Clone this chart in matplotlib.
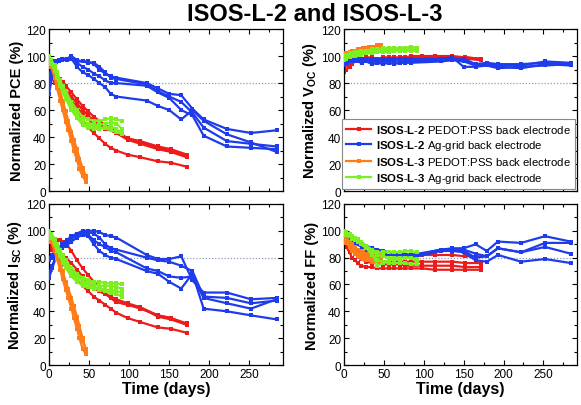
import numpy as np
import matplotlib as mpl
mpl.use('Agg')
from matplotlib import pyplot as plt
from matplotlib.ticker import MultipleLocator

plt.rcParams['font.family'] = ['Liberation Sans', 'DejaVu Sans']
plt.rcParams['mathtext.fontset'] = 'custom'
plt.rcParams['mathtext.rm'] = 'Liberation Sans'
plt.rcParams['mathtext.bf'] = 'Liberation Sans:bold'
plt.rcParams['mathtext.it'] = 'Liberation Sans:italic'

# measurement times (days) -----------------------------------------------------
t_red = [0, 3, 7, 10, 14, 17, 21, 28, 35, 42, 49, 56, 63, 70, 77, 84, 98, 114, 136, 152, 172]
t_blue = [0, 4, 8, 12, 16, 22, 28, 35, 42, 49, 56, 63, 70, 77, 84, 122, 136, 150, 165, 179, 193, 222, 252, 284]
t_orange = [0, 3, 7, 10, 14, 17, 21, 24, 28, 31, 35, 38, 42, 46]
t_green = [0, 3, 7, 10, 14, 17, 21, 28, 35, 42, 49, 56, 63, 70, 77, 84, 91]

# PCE ------------------------------------------------------------------------
pce_red = [[92, 90, 88, 86, 83, 81, 78, 73, 68, 63, 59, 55, 52, 49, 47, 45, 39, 37, 33, 31, 27],
           [90, 88, 86, 84, 81, 78, 75, 70, 65, 60, 56, 52, 49, 47, 45, 43, 38, 35, 31, 29, 25],
           [88, 85, 80, 78, 77, 75, 72, 67, 62, 57, 53, 50, 48, 46, 45, 43, 39, 36, 32, 30, 26],
           [90, 86, 82, 79, 76, 73, 70, 64, 58, 52, 47, 43, 39, 35, 32, 30, 27, 25, 22, 21, 18]]
pce_blue = [[78, 88, 95, 97, 98, 98, 100, 97, 96, 96, 94, 90, 87, 85, 84, 80, 76, 72, 71, 61, 53, 46, 43, 45],
            [72, 85, 93, 97, 98, 98, 99, 96, 96, 95, 95, 92, 88, 84, 83, 79, 74, 70, 66, 58, 47, 37, 35, 33],
            [85, 92, 96, 97, 97, 98, 98, 95, 92, 90, 87, 85, 82, 80, 80, 78, 73, 69, 60, 56, 41, 33, 32, 31],
            [80, 87, 94, 96, 97, 97, 98, 92, 88, 86, 83, 80, 77, 72, 70, 67, 63, 60, 53, 60, 52, 42, 36, 29]]
pce_orange = [[100, 94, 86, 79, 71, 64, 55, 49, 41, 34, 27, 21, 14, 9],
              [99, 95, 88, 82, 74, 67, 59, 52, 44, 38, 31, 24, 17, 11],
              [97, 92, 84, 76, 67, 60, 51, 45, 37, 30, 23, 16, 11, 7]]
pce_green = [[100, 97, 93, 88, 82, 78, 74, 66, 60, 55, 53, 52, 52, 53, 54, 53, 52],
             [98, 95, 90, 85, 79, 75, 70, 62, 57, 52, 50, 49, 49, 50, 51, 50, 46],
             [100, 96, 91, 86, 80, 76, 72, 64, 56, 50, 48, 48, 47, 47, 48, 46, 43],
             [97, 94, 89, 84, 78, 73, 68, 60, 54, 49, 47, 46, 46, 47, 45, 44, 42]]

# Voc ------------------------------------------------------------------------
voc_red = [[89, 90, 92, 94, 96, 97, 97, 98, 98, 98, 98, 98, 98, 99, 99, 99, 99, 100, 100, 99, 98],
           [91, 93, 95, 96, 97, 97, 97, 97, 98, 98, 97, 98, 98, 98, 98, 98, 99, 99, 99, 99, 98],
           [92, 93, 94, 96, 97, 98, 98, 99, 99, 98, 99, 99, 99, 99, 99, 100, 100, 100, 99, 99, 97],
           [88, 90, 93, 95, 96, 96, 97, 97, 97, 97, 97, 98, 98, 98, 98, 98, 98, 98, 98, 98, 97]]
voc_blue = [[95, 96, 97, 97, 98, 97, 98, 97, 98, 97, 97, 97, 98, 97, 97, 98, 98, 97, 93, 94, 93, 93, 96, 95],
            [93, 95, 96, 96, 97, 96, 97, 96, 96, 95, 96, 96, 96, 96, 96, 97, 97, 98, 94, 95, 94, 94, 95, 94],
            [96, 97, 97, 98, 98, 98, 98, 98, 97, 98, 98, 98, 98, 98, 98, 98, 99, 92, 92, 93, 92, 91, 94, 93],
            [94, 95, 96, 96, 96, 95, 96, 94, 95, 94, 95, 94, 95, 95, 95, 96, 97, 96, 93, 93, 91, 92, 93, 94]]
voc_orange = [[101, 102, 103, 104, 104, 105, 105, 106, 106, 107, 107, 107, 108, 108],
              [100, 101, 102, 102, 103, 103, 104, 104, 105, 105, 106, 106, 106, 107],
              [99, 100, 101, 101, 102, 102, 103, 103, 104, 104, 104, 105, 105, 105]]
voc_green = [[100, 101, 102, 102, 103, 103, 104, 104, 105, 105, 106, 106, 106, 106, 106, 107, 106],
             [98, 99, 100, 101, 101, 102, 102, 103, 103, 104, 104, 105, 105, 105, 105, 105, 105],
             [97, 98, 99, 100, 100, 101, 101, 102, 102, 103, 103, 103, 104, 104, 104, 104, 104],
             [99, 100, 100, 101, 102, 102, 103, 103, 104, 104, 104, 105, 105, 106, 105, 105, 104]]

# Isc ------------------------------------------------------------------------
isc_red = [[90, 91, 92, 93, 93, 92, 91, 85, 78, 72, 67, 62, 58, 54, 50, 47, 45, 43, 37, 35, 31],
           [88, 87, 86, 85, 84, 82, 80, 76, 71, 66, 62, 58, 55, 53, 50, 47, 45, 42, 37, 35, 30],
           [92, 88, 84, 82, 80, 78, 76, 72, 68, 64, 60, 57, 55, 53, 51, 49, 46, 43, 36, 34, 30],
           [89, 86, 83, 80, 78, 75, 73, 69, 64, 59, 55, 51, 48, 45, 42, 39, 35, 32, 28, 27, 24]]
isc_blue = [[80, 82, 84, 87, 90, 93, 96, 98, 100, 100, 100, 99, 97, 96, 95, 82, 79, 79, 81, 63, 54, 54, 49, 50],
            [78, 80, 82, 85, 88, 92, 95, 98, 99, 99, 98, 95, 90, 87, 86, 80, 78, 77, 74, 70, 51, 50, 46, 48],
            [65, 72, 79, 85, 88, 90, 94, 97, 98, 97, 93, 90, 88, 85, 84, 72, 70, 66, 65, 66, 50, 46, 42, 49],
            [68, 74, 80, 84, 87, 89, 92, 95, 97, 96, 90, 85, 82, 80, 79, 70, 68, 62, 57, 68, 42, 40, 37, 34]]
isc_orange = [[100, 96, 90, 84, 76, 70, 61, 55, 46, 40, 32, 26, 18, 12],
              [98, 94, 88, 82, 75, 69, 62, 57, 50, 44, 36, 29, 20, 11],
              [97, 92, 85, 79, 71, 64, 56, 50, 42, 35, 27, 20, 12, 8]]
isc_green = [[100, 98, 94, 90, 86, 82, 78, 72, 68, 65, 63, 62, 62, 61, 61, 61, 60],
             [99, 96, 92, 88, 84, 80, 76, 70, 66, 63, 61, 60, 59, 59, 59, 58, 57],
             [98, 95, 90, 85, 81, 77, 73, 68, 64, 61, 60, 58, 57, 56, 56, 55, 54],
             [100, 96, 91, 86, 81, 76, 72, 66, 62, 59, 58, 57, 56, 55, 54, 53, 51]]

# FF -------------------------------------------------------------------------
ff_red = [[92, 88, 84, 80, 78, 76, 74, 73, 73, 72, 72, 72, 72, 72, 72, 72, 72, 71, 71, 71, 71],
          [95, 92, 89, 86, 84, 82, 80, 78, 77, 77, 77, 77, 77, 77, 77, 77, 77, 77, 77, 76, 76],
          [97, 95, 92, 89, 87, 85, 84, 83, 82, 82, 82, 82, 82, 83, 83, 82, 82, 82, 82, 81, 81],
          [94, 91, 88, 85, 83, 81, 79, 77, 76, 76, 75, 75, 75, 75, 74, 74, 74, 74, 74, 73, 73]]
ff_blue = [[99, 97, 95, 93, 92, 90, 89, 87, 86, 85, 84, 83, 83, 82, 82, 86, 87, 87, 90, 85, 92, 91, 96, 92],
           [98, 96, 94, 92, 90, 89, 87, 86, 85, 84, 84, 83, 82, 82, 81, 86, 86, 86, 83, 81, 87, 84, 91, 91],
           [97, 95, 93, 91, 90, 88, 86, 85, 84, 83, 82, 82, 81, 81, 80, 85, 85, 84, 78, 77, 82, 77, 79, 76],
           [98, 96, 94, 92, 91, 89, 87, 86, 85, 84, 83, 82, 82, 81, 81, 86, 86, 85, 80, 81, 87, 84, 88, 83]]
ff_orange = [[96, 93, 90, 87, 85, 83, 82, 81, 80, 80, 80, 79, 79, 79],
             [94, 91, 88, 85, 83, 81, 80, 79, 78, 78, 77, 77, 77, 77],
             [97, 95, 92, 90, 88, 86, 85, 84, 83, 83, 82, 82, 82, 82]]
ff_green = [[100, 99, 98, 96, 95, 94, 92, 89, 86, 84, 84, 84, 84, 84, 85, 85, 84],
            [99, 98, 97, 95, 94, 93, 91, 88, 84, 74, 76, 78, 79, 79, 80, 80, 79],
            [100, 99, 97, 96, 94, 93, 92, 88, 85, 82, 81, 80, 80, 80, 80, 80, 77],
            [98, 97, 96, 94, 93, 92, 90, 87, 82, 78, 77, 76, 76, 76, 76, 75, 75]]

labels = [r'$\mathbf{ISOS}$-$\mathbf{L}$-$\mathbf{2}$ PEDOT:PSS back electrode',
          r'$\mathbf{ISOS}$-$\mathbf{L}$-$\mathbf{2}$ Ag-grid back electrode',
          r'$\mathbf{ISOS}$-$\mathbf{L}$-$\mathbf{3}$ PEDOT:PSS back electrode',
          r'$\mathbf{ISOS}$-$\mathbf{L}$-$\mathbf{3}$ Ag-grid back electrode']
colors = ['#ec1c1c', '#1f3cec', '#ff7c18', '#7cef1e']
times = [t_red, t_blue, t_orange, t_green]

panels = [('Normalized PCE (%)', [pce_red, pce_blue, pce_orange, pce_green]),
          (r'Normalized V$_{\mathbf{OC}}$ (%)', [voc_red, voc_blue, voc_orange, voc_green]),
          (r'Normalized I$_{\mathbf{SC}}$ (%)', [isc_red, isc_blue, isc_orange, isc_green]),
          ('Normalized FF (%)', [ff_red, ff_blue, ff_orange, ff_green])]

fig = plt.figure(figsize=(5.81, 4.06), dpi=100)
pos = [[0.0843, 0.527, 0.4028, 0.399],
       [0.592, 0.527, 0.401, 0.399],
       [0.0843, 0.0985, 0.4028, 0.3966],
       [0.592, 0.0985, 0.401, 0.3966]]

for i, (ylab, groups) in enumerate(panels):
    ax = fig.add_axes(pos[i])
    ax.axhline(80, color='#8c9bc0', lw=0.9, ls=(0, (1, 1.5)), zorder=1)
    for g, (t, dev) in enumerate(zip(times, groups)):
        for k, y in enumerate(dev):
            ax.plot(t, y, '-s', color=colors[g], lw=1.6, ms=3.0, mew=0,
                    label=labels[g] if k == 0 else None, zorder=2 + g)
    ax.set_xlim(0, 292)
    ax.set_ylim(0, 120)
    ax.xaxis.set_major_locator(MultipleLocator(50))
    ax.xaxis.set_minor_locator(MultipleLocator(25))
    ax.yaxis.set_major_locator(MultipleLocator(20))
    ax.yaxis.set_minor_locator(MultipleLocator(10))
    ax.tick_params(which='both', direction='in', top=True, right=True,
                   labelsize=8.5, width=0.8, pad=2)
    ax.tick_params(which='major', length=3.5)
    ax.tick_params(which='minor', length=2)
    for sp in ax.spines.values():
        sp.set_linewidth(0.9)
    ax.set_ylabel(ylab, fontsize=10.5, fontweight='bold', labelpad=2)
    if i < 2:
        ax.tick_params(labelbottom=False)
    else:
        ax.set_xlabel('Time (days)', fontsize=11.5, fontweight='bold', labelpad=1)
    if i == 1:
        leg = ax.legend(loc='lower right', fontsize=8.2, handlelength=2.2,
                        handletextpad=0.4, labelspacing=0.3, borderpad=0.35,
                        borderaxespad=0.2, fancybox=False, framealpha=1,
                        edgecolor='#888888')
        leg.get_frame().set_linewidth(0.8)

fig.text(0.542, 0.992, 'ISOS-L-2 and ISOS-L-3', ha='center', va='top',
         fontsize=17, fontweight='bold')

fig.savefig('out.png', dpi=100, facecolor='white')
